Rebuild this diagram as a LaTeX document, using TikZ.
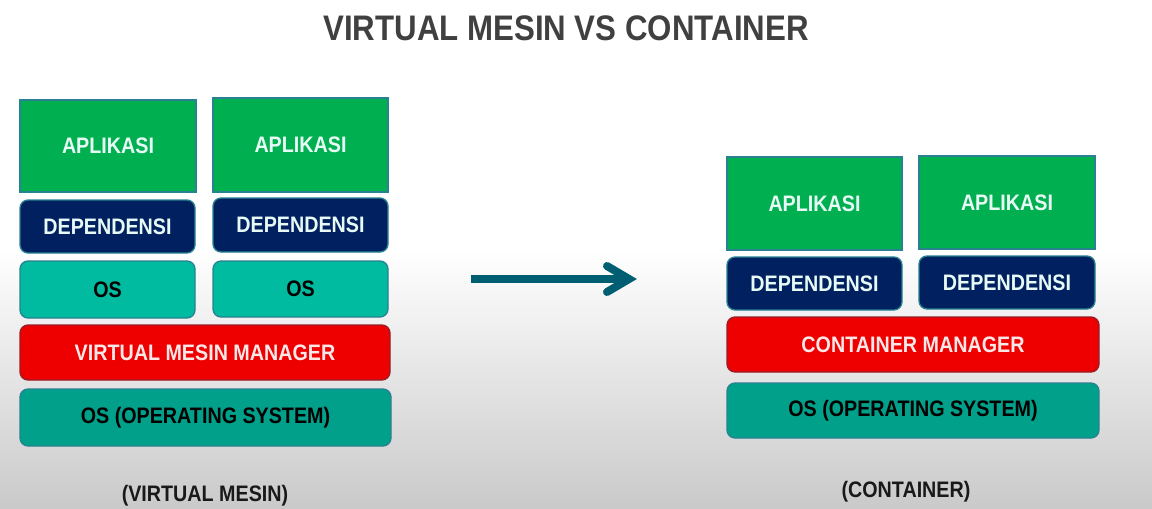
\documentclass[tikz,border=0pt]{standalone}
\usepackage{fontspec}
\setmainfont{Liberation Sans}
\newfontfamily\boxfont{Liberation Sans Bold}
\newfontfamily\titlefont{Liberation Sans Bold}
\definecolor{aplgreen}{RGB}{0,176,80}
\definecolor{depnavy}{RGB}{0,32,96}
\definecolor{ossmall}{RGB}{0,187,160}
\definecolor{osbig}{RGB}{0,160,138}
\definecolor{mgrred}{RGB}{238,0,0}
\definecolor{edgeteal}{RGB}{40,130,145}
\definecolor{edgered}{RGB}{150,30,40}
\definecolor{arrowteal}{RGB}{0,94,115}
\definecolor{titlegray}{RGB}{64,64,64}
\definecolor{lighttxt}{RGB}{232,250,245}
\definecolor{pinktxt}{RGB}{250,232,232}
\newcommand{\lbl}[1]{{\boxfont\fontsize{22.4}{25}\selectfont\scalebox{0.88}[1]{#1}}}
\begin{document}
\begin{tikzpicture}[x=1pt,y=-1pt,
  layer/.style={inner sep=0pt, outer sep=0pt, line width=1.3pt, anchor=center},
  aplbox/.style={layer, draw=edgeteal, fill=aplgreen, text=lighttxt},
  depbox/.style={layer, draw=edgeteal, fill=depnavy, text=lighttxt, rounded corners=8pt},
  osbox/.style={layer, draw=edgeteal, fill=ossmall, text=black, rounded corners=8pt},
  mgrbox/.style={layer, draw=edgered, fill=mgrred, text=pinktxt, rounded corners=8pt},
  hostbox/.style={layer, draw=edgeteal, fill=osbig, text=black, rounded corners=8pt},
  caption/.style={inner sep=0pt, text=black!90},
  bigarrow/.style={draw=arrowteal, line width=8pt}
]
% background
\useasboundingbox (0,0) rectangle (1152,509);
\fill[white] (0,0) rectangle (1152,250);
\shade[top color=white, bottom color=black!21] (0,249) rectangle (1152,509.5);

% title
\node[caption, text=titlegray] (title) at (566,28)
  {\titlefont\fontsize{35.5}{38}\selectfont\scalebox{0.88}[1]{VIRTUAL MESIN VS CONTAINER}};

% left stack (virtual machine)
\node[aplbox, minimum width=176pt, minimum height=92pt] (la1) at (108,146) {\lbl{APLIKASI}};
\node[aplbox, minimum width=175pt, minimum height=94pt] (la2) at (300.5,145) {\lbl{APLIKASI}};
\node[depbox, minimum width=175pt, minimum height=53pt] (ld1) at (107.5,226.5) {\lbl{DEPENDENSI}};
\node[depbox, minimum width=175pt, minimum height=54pt] (ld2) at (300.5,225) {\lbl{DEPENDENSI}};
\node[osbox, minimum width=175pt, minimum height=57pt] (lo1) at (107.5,289.5) {\lbl{OS}};
\node[osbox, minimum width=175pt, minimum height=56pt] (lo2) at (300.5,289) {\lbl{OS}};
\node[mgrbox, minimum width=370pt, minimum height=55pt] (vmm) at (205,352.5) {\lbl{VIRTUAL MESIN MANAGER}};
\node[hostbox, minimum width=371pt, minimum height=57pt] (losh) at (205.5,417.5) {\lbl{OS (OPERATING SYSTEM)}};
\node[caption] (lcap) at (205,496) {\lbl{(VIRTUAL MESIN)}};

% right stack (container)
\node[aplbox, minimum width=175pt, minimum height=93pt] (ra1) at (814.5,203.5) {\lbl{APLIKASI}};
\node[aplbox, minimum width=176pt, minimum height=93pt] (ra2) at (1007,202.5) {\lbl{APLIKASI}};
\node[depbox, minimum width=175pt, minimum height=53pt] (rd1) at (814.5,283.5) {\lbl{DEPENDENSI}};
\node[depbox, minimum width=176pt, minimum height=53pt] (rd2) at (1007,282.5) {\lbl{DEPENDENSI}};
\node[mgrbox, minimum width=372pt, minimum height=55pt] (cm) at (913,344.5) {\lbl{CONTAINER MANAGER}};
\node[hostbox, minimum width=372pt, minimum height=55pt] (rosh) at (913,410.5) {\lbl{OS (OPERATING SYSTEM)}};
\node[caption] (rcap) at (906,492) {\lbl{(CONTAINER)}};

% arrow
\coordinate (arrA) at (471,279);
\coordinate (arrB) at (629,279);
\coordinate (arrH1) at (607,266);
\coordinate (arrH2) at (607,292);
\draw[bigarrow] (arrA) -- (arrB);
\draw[bigarrow, line cap=round, line join=miter] (arrH1) -- (arrB) -- (arrH2);
\end{tikzpicture}
\end{document}
